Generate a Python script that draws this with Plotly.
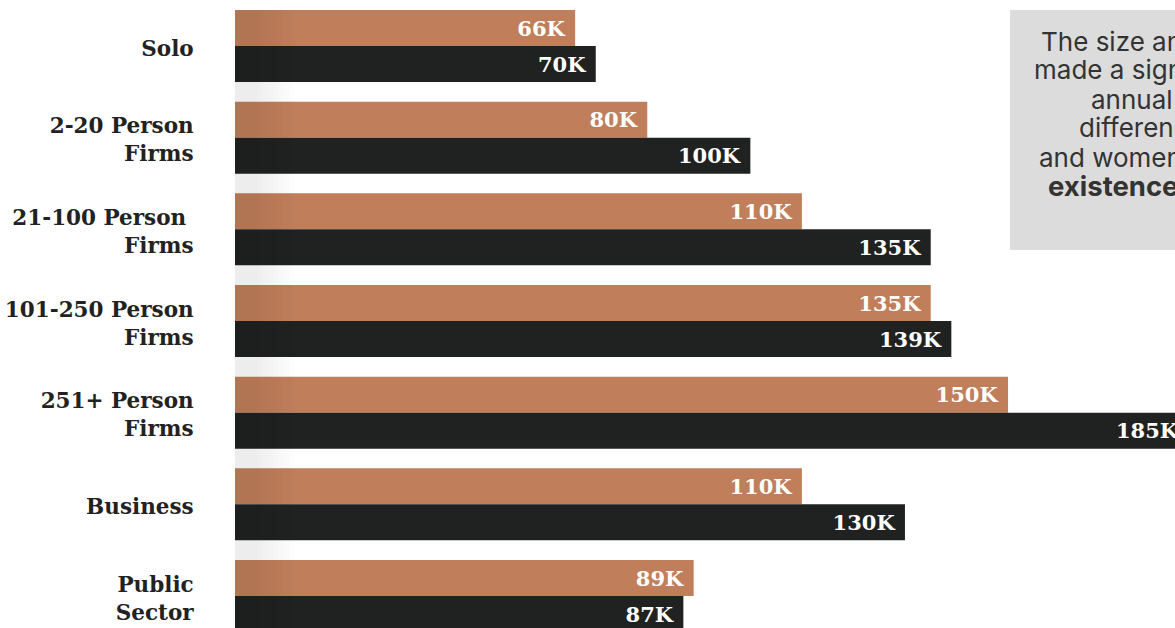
import plotly.graph_objects as go

categories = ["Solo", "2-20 Person<br>Firms", "21-100 Person\u00a0<br>Firms", "101-250 Person<br>Firms",
              "251+ Person<br>Firms", "Business", "Public<br>Sector"]
women = [66, 80, 110, 135, 150, 110, 89]
men = [70, 100, 135, 139, 185, 130, 87]

note_lines = ["The size and type of firm", "made a significant impact on", "annual",
              "differences between men", "and women point to the", "<b>existence of a pay gap.</b>"]

W, H = 1175, 628
L = 235
ORANGE = "#c07e5b"
BLACK = "#202221"
SLAB = "DejaVu Serif"

fig = go.Figure()
for name, vals, col in [("Women", women, ORANGE), ("Men", men, BLACK)]:
    fig.add_trace(go.Bar(
        y=categories, x=vals, orientation="h", name=name,
        marker=dict(color=col, line=dict(width=0)),
        text=[f"{v}K\u00a0" for v in vals],
        textposition="inside", insidetextanchor="end",
        textfont=dict(family=SLAB, size=21, color="white", weight="bold"),
        constraintext="none", cliponaxis=True,
    ))

def px2x(p):
    return (p - L) / (W - L)

def py2y(p):
    return 1 - p / H

shapes = []
# soft shadow near the axis
steps = [(235, 258, 0.07)]
x = 258
n = 9
for i in range(n):
    op = 0.07 * (1 - (i + 1) / (n + 1))
    steps.append((x, x + 4, op))
    x += 4
for x0, x1, op in steps:
    shapes.append(dict(type="rect", xref="paper", yref="paper", x0=px2x(x0), x1=px2x(x1),
                       y0=0, y1=py2y(10), fillcolor="black", opacity=op, line=dict(width=0),
                       layer="above"))
# grey callout box
shapes.append(dict(type="rect", xref="paper", yref="paper", x0=px2x(1010), x1=px2x(1400),
                   y0=py2y(250), y1=py2y(10), fillcolor="#dcdcdc", line=dict(width=0), layer="above"))

line_x = [1040, 1033, 1090, 1078, 1038, 1047]
line_y = [41, 70, 99, 128, 157, 186]
line_size = [26, 26, 26, 26, 26, 27.5]
annotations = []
for txt, lx, ly, sz in zip(note_lines, line_x, line_y, line_size):
    annotations.append(dict(
        xref="paper", yref="paper", x=px2x(lx), y=py2y(ly), xanchor="left", yanchor="middle",
        showarrow=False, align="left", text=txt, xshift=-1,
        font=dict(family="Inter", size=sz, color="#333333"),
    ))

fig.update_layout(
    width=W, height=H,
    margin=dict(l=L, r=0, t=0, b=0),
    paper_bgcolor="white", plot_bgcolor="white",
    barmode="group", bargap=0.215, bargroupgap=0,
    showlegend=False,
    shapes=shapes,
    annotations=annotations,
    xaxis=dict(range=[0, 182.4], visible=False, fixedrange=True),
    yaxis=dict(type="category", range=[6.349, -0.502], showgrid=False, zeroline=False,
               showline=False, ticks="outside", ticklen=36, tickcolor="rgba(0,0,0,0)",
               ticklabelshift=-2,
               tickfont=dict(family=SLAB, size=21.5, color="#222222", weight="bold")),
)

fig.write_html("out.html")
